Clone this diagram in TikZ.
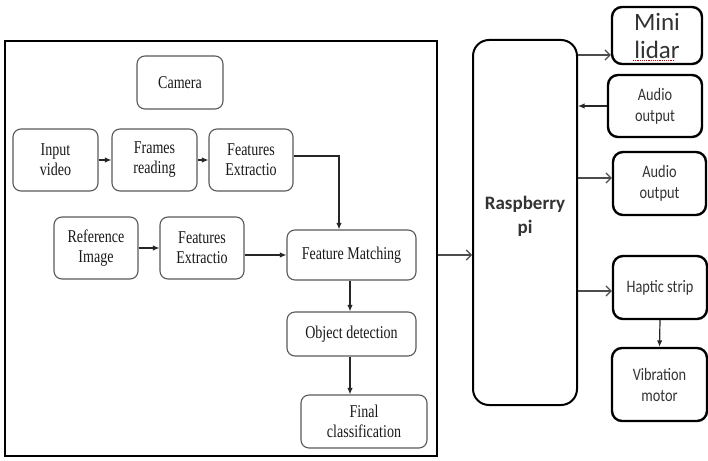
\documentclass[tikz,border=0pt]{standalone}
\usepackage{fontspec}
\setmainfont{Liberation Serif}
\newfontfamily\boxserif[FakeStretch=0.78]{Liberation Serif}
\newfontfamily\boxsans[FakeStretch=0.82]{Carlito}
\newfontfamily\plainsans{Carlito}
\usepackage{tikz}
\usetikzlibrary{arrows.meta}

\tikzset{
    procbox/.style={draw=black!65, line width=1.1pt, rounded corners=8pt, align=center,
        inner sep=0pt, text=black!90, font=\boxserif\fontsize{18}{20}\selectfont},
    hwbox/.style={draw=black, line width=2.4pt, rounded corners=10pt, align=center,
        inner sep=0pt, text=black!80, font=\boxsans\fontsize{17.5}{21}\selectfont},
    flow/.style={-{Latex[length=6.5pt,width=5.5pt]}, line width=1.2pt, black!85},
    link/.style={-{Straight Barb[length=5pt,width=10pt]}, line width=1.2pt, black!70},
}

\begin{document}
\begin{tikzpicture}[x=1pt, y=-1pt]
    \useasboundingbox (0,0) rectangle (708,460);

    % Processing frame
    \node[draw, line width=2.5pt, minimum width=432pt, minimum height=415pt, inner sep=0pt] (frame) at (221,248.5) {};

    % Camera branch
    \node[procbox, minimum width=86pt, minimum height=53pt] (camera) at (180,82.5) {Camera};
    \node[procbox, minimum width=85pt, minimum height=62pt] (input) at (55.5,160) {Input\\video};
    \node[procbox, minimum width=85pt, minimum height=62pt] (frames) at (154.5,160) {Frames\\reading};
    \node[procbox, minimum width=84pt, minimum height=62pt] (featA) at (251,160) {Features\\Extractio};

    % Reference branch
    \node[procbox, minimum width=84pt, minimum height=62pt] (refimg) at (96,248) {Reference\\Image};
    \node[procbox, minimum width=84pt, minimum height=62pt] (featB) at (202,248) {Features\\Extractio};

    % Matching and detection
    \node[procbox, minimum width=129pt, minimum height=50pt] (match) at (351.5,255) {Feature Matching};
    \node[procbox, minimum width=129pt, minimum height=44pt] (detect) at (351.5,334) {Object detection};
    \node[procbox, minimum width=126pt, minimum height=53pt] (final) at (364,421.5) {Final\\classification};

    % Hardware side
    \node[draw, line width=2pt, rounded corners=16pt, minimum width=104pt, minimum height=365pt, inner sep=0pt,
        align=center, text=black!80, font=\plainsans\bfseries\fontsize{19}{24}\selectfont] (rpi) at (525,222.5) {};
    \node[align=center, text=black!80, font=\plainsans\bfseries\fontsize{19}{24}\selectfont] (rpilabel) at (525,216) {Raspberry\\pi};
    \node[hwbox, minimum width=90pt, minimum height=57pt, font=\plainsans\fontsize{25}{28}\selectfont] (lidar) at (657,35.5) {Mini\\lidar};
    \node[hwbox, minimum width=94pt, minimum height=62pt] (audioA) at (655,106) {Audio\\output};
    \node[hwbox, minimum width=93pt, minimum height=63pt] (audioB) at (659.5,183.5) {Audio\\output};
    \node[hwbox, minimum width=94pt, minimum height=63pt] (haptic) at (660,287.5) {Haptic strip};
    \node[hwbox, minimum width=95pt, minimum height=73pt] (vibra) at (659.5,384.5) {Vibration\\motor};

    % Spell check mark
    \draw[red!80!black, densely dotted, line width=1.2pt] ([shift={(-24pt,4.5pt)}]lidar.south) -- ([shift={(16pt,4.5pt)}]lidar.south);

    % Left arrows
    \draw[flow] (input) -- (frames);
    \draw[flow] (frames) -- (featA);
    \draw[flow] (refimg) -- (featB);
    \draw[flow] (featB.east |- match.west) -- (match.west);
    \coordinate (bend) at (339,156);
    \draw[flow] (featA.east |- bend) -- (bend) -- (bend |- match.north);
    \draw[flow] (match.south -| 350,0) -- (350,0 |- detect.north);
    \draw[flow] (detect.south -| 350,0) -- (350,0 |- final.north);

    % Right arrows
    \draw[link] (frame.east |- match.east) -- (rpi.west |- match.east);
    \coordinate (lidarIn) at ([yshift=-19.5pt]lidar.west);
    \coordinate (audioIn) at ([yshift=5.5pt]audioB.west);
    \coordinate (hapticIn) at ([yshift=-3.5pt]haptic.west);
    \draw[link] (rpi.east |- lidarIn) -- (lidarIn);
    \draw[flow] (audioA.west) -- (rpi.east |- audioA.west);
    \draw[link] (rpi.east |- audioIn) -- (audioIn);
    \draw[link] (rpi.east |- hapticIn) -- (hapticIn);
    \draw[flow] (haptic.south) -- (vibra.north);
\end{tikzpicture}
\end{document}
